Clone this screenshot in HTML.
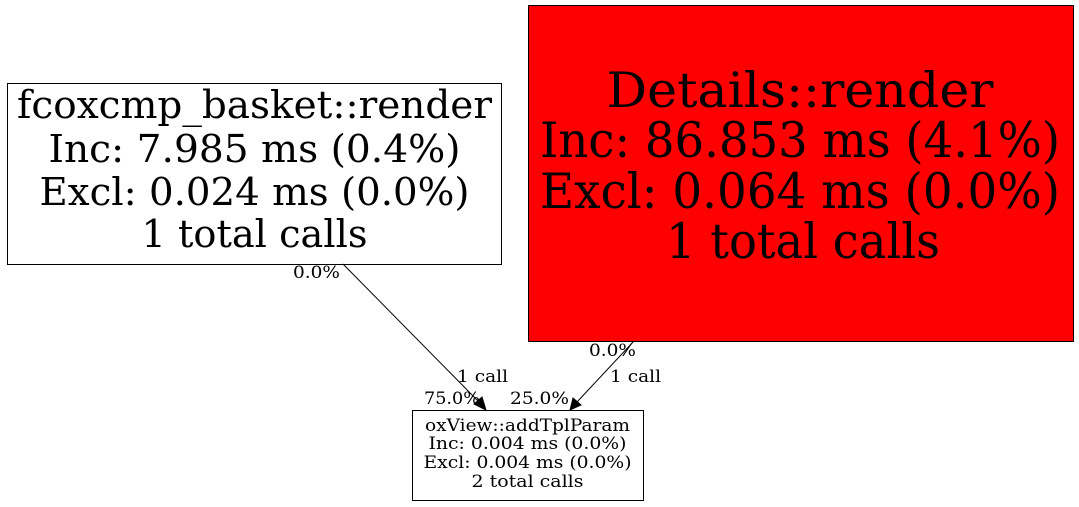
<!DOCTYPE html>
<html><head><meta charset="utf-8"><style>
html,body{margin:0;padding:0;background:#fff;}
svg{display:block;}
text{font-family:"DejaVu Serif","Liberation Serif",serif;fill:#000;}
</style></head><body>
<svg width="1079" height="507" viewBox="0 0 1079 507" xmlns="http://www.w3.org/2000/svg">
<rect x="7.5" y="83.5" width="494" height="181" fill="#fff" stroke="#000" stroke-width="1"/>
<g font-size="38" text-anchor="middle">
<text x="254.5" y="118" textLength="475" lengthAdjust="spacingAndGlyphs">fcoxcmp_basket::render</text>
<text x="254.5" y="162" textLength="412" lengthAdjust="spacingAndGlyphs">Inc: 7.985 ms (0.4%)</text>
<text x="254.5" y="205" textLength="430" lengthAdjust="spacingAndGlyphs">Excl: 0.024 ms (0.0%)</text>
<text x="254.5" y="247" textLength="226" lengthAdjust="spacingAndGlyphs">1 total calls</text>
</g>
<rect x="528.5" y="5.5" width="545" height="336" fill="#ff0000" stroke="#000" stroke-width="1"/>
<g font-size="49" text-anchor="middle">
<text x="800" y="107" textLength="387" lengthAdjust="spacingAndGlyphs">Details::render</text>
<text x="800" y="157" textLength="520" lengthAdjust="spacingAndGlyphs">Inc: 86.853 ms (4.1%)</text>
<text x="800" y="208" textLength="520" lengthAdjust="spacingAndGlyphs">Excl: 0.064 ms (0.0%)</text>
<text x="803" y="258" textLength="274" lengthAdjust="spacingAndGlyphs">1 total calls</text>
</g>
<rect x="412.5" y="410.5" width="231" height="90" fill="#fff" stroke="#000" stroke-width="1"/>
<g font-size="17" text-anchor="middle">
<text x="527.5" y="431" textLength="205" lengthAdjust="spacingAndGlyphs">oxView::addTplParam</text>
<text x="527.5" y="449" textLength="198" lengthAdjust="spacingAndGlyphs">Inc: 0.004 ms (0.0%)</text>
<text x="527.5" y="468" textLength="208" lengthAdjust="spacingAndGlyphs">Excl: 0.004 ms (0.0%)</text>
<text x="527.5" y="487" textLength="112" lengthAdjust="spacingAndGlyphs">2 total calls</text>
</g>
<line x1="343" y1="264" x2="479" y2="402" stroke="#000" stroke-width="1"/>
<polygon points="486,410 474,404 482,397" fill="#000" stroke="#000"/>
<line x1="634" y1="341" x2="577" y2="402" stroke="#000" stroke-width="1"/>
<polygon points="570,410 573,398 581,405" fill="#000" stroke="#000"/>
<g font-size="17">
<text x="293" y="278" textLength="47" lengthAdjust="spacingAndGlyphs">0.0%</text>
<text x="457" y="382" textLength="51" lengthAdjust="spacingAndGlyphs">1 call</text>
<text x="424" y="404" textLength="56" lengthAdjust="spacingAndGlyphs">75.0%</text>
<text x="510" y="404" textLength="59" lengthAdjust="spacingAndGlyphs">25.0%</text>
<text x="589" y="356" textLength="47" lengthAdjust="spacingAndGlyphs">0.0%</text>
<text x="610" y="382" textLength="51" lengthAdjust="spacingAndGlyphs">1 call</text>
</g>
</svg>
</body></html>
